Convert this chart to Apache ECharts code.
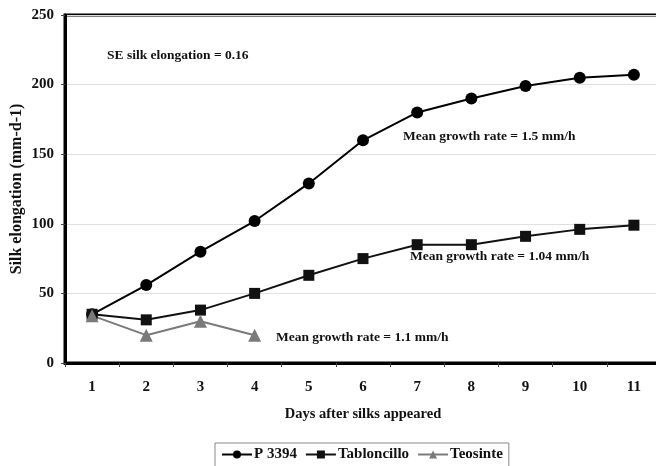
<!DOCTYPE html>
<html><head><meta charset="utf-8">
<script src="https://cdn.jsdelivr.net/npm/echarts@6/dist/echarts.min.js"></script>
<style>html,body{margin:0;padding:0;background:#fff}#c{width:656px;height:466px}</style>
</head><body><div id="c"></div>
<script>
var days = ['1','2','3','4','5','6','7','8','9','10','11'];
var p3394 = [35, 56, 80, 102, 129, 160, 180, 190, 199, 205, 207];
var tabloncillo = [35, 31, 38, 50, 63, 75, 85, 85, 91, 96, 99];
var teosinte = [34, 20, 30, 20];
var yTicks = [0, 50, 100, 150, 200, 250];

var F = 'Liberation Serif, Times New Roman, serif';
var chart = echarts.init(document.getElementById('c'));
chart.setOption({
  animation: false,
  backgroundColor: '#fff',
  grid: {left: 65, right: -5, top: 15, bottom: 103, outerBoundsMode: 'none', containLabel: false,
    show: true, borderColor: '#000', borderWidth: 3},
  xAxis: {
    type: 'category', data: days, boundaryGap: true,
    name: 'Days after silks appeared', nameLocation: 'middle', nameGap: 44,
    nameTextStyle: {fontFamily: F, fontWeight: 'bold', fontSize: 14.5, color: '#111'},
    axisLine: {lineStyle: {color: '#000', width: 3}},
    axisTick: {show: true, length: 4, lineStyle: {color: '#444', width: 1}},
    axisLabel: {fontFamily: F, fontWeight: 'bold', fontSize: 15, color: '#111', margin: 17},
    splitLine: {show: false}
  },
  yAxis: {
    type: 'value', min: 0, max: 250, interval: 50,
    name: 'Silk elongation (mm-d-1)', nameLocation: 'middle', nameGap: 40, nameRotate: 90,
    nameMoveOverlap: false,
    nameTextStyle: {fontFamily: F, fontWeight: 'bold', fontSize: 16, color: '#111'},
    axisLine: {show: true, lineStyle: {color: '#000', width: 3}},
    axisTick: {show: true, length: 4, lineStyle: {color: '#444', width: 1}},
    axisLabel: {fontFamily: F, fontWeight: 'bold', fontSize: 15, color: '#111', margin: 11,
      formatter: function(v){ return yTicks.indexOf(v) >= 0 ? String(v) : ''; }},
    splitLine: {show: true, lineStyle: {color: '#e0e0e0', width: 1}}
  },
  legend: {
    top: 443, left: 215, itemGap: 8, itemWidth: 30, itemHeight: 10,
    borderColor: '#888', borderWidth: 1, padding: [4, 6, 12, 6],
    textStyle: {fontFamily: F, fontWeight: 'bold', fontSize: 15, color: '#111', padding: [0,0,0,-3]},
    data: ['P 3394', 'Tabloncillo', 'Teosinte']
  },
  series: [
    {name: 'P 3394', type: 'line', data: p3394, symbol: 'circle', symbolSize: 12,
      itemStyle: {color: '#000'}, lineStyle: {color: '#000', width: 2}},
    {name: 'Tabloncillo', type: 'line', data: tabloncillo, symbol: 'rect', symbolSize: 11,
      itemStyle: {color: '#111'}, lineStyle: {color: '#111', width: 2}},
    {name: 'Teosinte', type: 'line', data: teosinte, symbol: 'triangle', symbolSize: 13,
      itemStyle: {color: '#7a7a7a'}, lineStyle: {color: '#7a7a7a', width: 2}}
  ],
  graphic: [
    {type: 'text', left: 107, top: 49, style: {text: 'SE silk elongation = 0.16', font: 'bold 13.5px ' + F, fill: '#111'}},
    {type: 'text', left: 403, top: 130, style: {text: 'Mean growth rate = 1.5 mm/h', font: 'bold 13.5px ' + F, fill: '#111'}},
    {type: 'text', left: 410, top: 250, style: {text: 'Mean growth rate = 1.04 mm/h', font: 'bold 13.5px ' + F, fill: '#111'}},
    {type: 'text', left: 276, top: 331, style: {text: 'Mean growth rate = 1.1 mm/h', font: 'bold 13.5px ' + F, fill: '#111'}}
  ]
});
</script></body></html>
